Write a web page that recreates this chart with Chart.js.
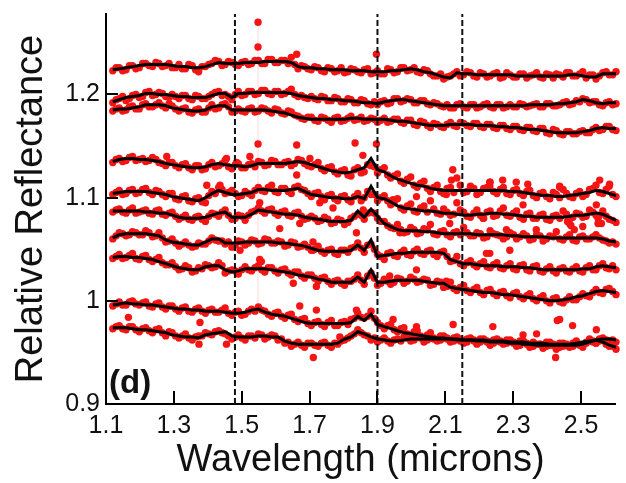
<!DOCTYPE html>
<html>
<head>
<meta charset="utf-8">
<script src="https://cdn.jsdelivr.net/npm/chart.js@4.4.1/dist/chart.umd.min.js"></script>
<style>
  html, body { margin: 0; padding: 0; background: #ffffff; }
  canvas { display: block; }
</style>
</head>
<body>
<canvas id="chart" width="626" height="483"></canvas>
<script>
// Sampling wavelengths (microns) shared by every spectrum
const wavelengths = [
  1.120,1.139,1.159,1.178,1.198,1.217,1.237,1.256,1.276,1.295,
  1.315,1.334,1.354,1.373,1.393,1.412,1.432,1.451,1.471,1.490,
  1.510,1.529,1.549,1.568,1.588,1.607,1.627,1.646,1.666,1.685,
  1.705,1.725,1.744,1.764,1.783,1.803,1.822,1.842,1.861,1.881,
  1.900,1.920,1.939,1.959,1.978,1.998,2.017,2.037,2.056,2.076,
  2.095,2.115,2.134,2.154,2.174,2.193,2.213,2.232,2.252,2.271,
  2.291,2.310,2.330,2.349,2.369,2.388,2.408,2.427,2.447,2.466,
  2.486,2.505,2.525,2.544,2.564,2.583,2.603
];
// Interleaved channel wavelengths (second detector readout)
const midWavelengths = [
  1.130,1.149,1.169,1.188,1.208,1.227,1.247,1.266,1.286,1.305,
  1.325,1.344,1.364,1.383,1.403,1.422,1.442,1.461,1.481,1.500,
  1.520,1.539,1.559,1.578,1.598,1.617,1.637,1.656,1.676,1.695,
  1.715,1.735,1.754,1.774,1.793,1.813,1.832,1.852,1.871,1.891,
  1.910,1.930,1.949,1.969,1.988,2.008,2.027,2.047,2.066,2.086,
  2.105,2.125,2.144,2.164,2.184,2.203,2.223,2.242,2.262,2.281,
  2.301,2.320,2.340,2.359,2.379,2.398,2.418,2.437,2.457,2.476,
  2.496,2.515,2.535,2.554,2.574,2.593
];

// Measured relative reflectance, one array per spectrum (top to bottom)
const spectrum1 = [
  1.223,1.226,1.224,1.228,1.226,1.230,1.227,1.230,1.228,1.226,
  1.229,1.225,1.228,1.222,1.227,1.230,1.232,1.229,1.231,1.228,
  1.232,1.230,1.233,1.230,1.234,1.231,1.233,1.236,1.225,1.227,
  1.224,1.226,1.222,1.225,1.223,1.221,1.225,1.222,1.224,1.220,
  1.223,1.220,1.224,1.222,1.226,1.224,1.222,1.224,1.220,1.218,
  1.215,1.218,1.222,1.219,1.221,1.217,1.220,1.218,1.221,1.217,
  1.219,1.217,1.220,1.218,1.221,1.216,1.219,1.220,1.217,1.221,
  1.218,1.222,1.219,1.215,1.221,1.219,1.222
];
const spectrum2 = [
  1.192,1.196,1.194,1.199,1.197,1.202,1.199,1.202,1.198,1.200,
  1.196,1.199,1.195,1.198,1.196,1.200,1.203,1.200,1.195,1.203,
  1.200,1.203,1.201,1.204,1.200,1.203,1.201,1.205,1.198,1.197,
  1.198,1.195,1.197,1.194,1.196,1.193,1.195,1.192,1.194,1.190,
  1.190,1.194,1.192,1.196,1.194,1.195,1.192,1.194,1.190,1.191,
  1.188,1.187,1.190,1.188,1.190,1.187,1.190,1.188,1.190,1.187,
  1.190,1.188,1.190,1.189,1.191,1.188,1.191,1.189,1.192,1.190,
  1.194,1.196,1.192,1.193,1.189,1.193,1.191
];
const spectrum3 = [
  1.184,1.187,1.185,1.189,1.186,1.191,1.188,1.192,1.187,1.189,
  1.184,1.187,1.182,1.186,1.183,1.190,1.187,1.191,1.183,1.186,
  1.183,1.187,1.184,1.186,1.182,1.185,1.181,1.183,1.179,1.176,
  1.178,1.174,1.177,1.173,1.178,1.175,1.179,1.176,1.174,1.177,
  1.173,1.177,1.174,1.176,1.172,1.175,1.170,1.173,1.168,1.171,
  1.168,1.173,1.169,1.172,1.169,1.172,1.168,1.171,1.167,1.170,
  1.166,1.169,1.165,1.168,1.164,1.167,1.162,1.165,1.161,1.164,
  1.162,1.165,1.163,1.168,1.166,1.169,1.165
];
const spectrum4 = [
  1.134,1.138,1.136,1.140,1.137,1.135,1.139,1.134,1.131,1.134,
  1.129,1.133,1.127,1.131,1.128,1.134,1.131,1.136,1.128,1.133,
  1.129,1.133,1.135,1.131,1.136,1.132,1.134,1.131,1.137,1.133,
  1.130,1.134,1.126,1.130,1.123,1.127,1.121,1.129,1.125,1.131,
  1.124,1.129,1.119,1.123,1.114,1.120,1.110,1.116,1.106,1.112,
  1.104,1.110,1.119,1.105,1.111,1.103,1.109,1.115,1.104,1.110,
  1.103,1.108,1.102,1.107,1.100,1.105,1.099,1.103,1.108,1.101,
  1.104,1.101,1.108,1.112,1.104,1.111,1.101
];
const spectrum5 = [
  1.103,1.107,1.104,1.108,1.105,1.109,1.103,1.106,1.101,1.104,
  1.098,1.102,1.096,1.100,1.095,1.106,1.110,1.104,1.107,1.101,
  1.106,1.102,1.110,1.106,1.112,1.105,1.109,1.104,1.111,1.107,
  1.101,1.105,1.098,1.103,1.097,1.102,1.096,1.104,1.100,1.103,
  1.097,1.102,1.093,1.099,1.088,1.094,1.086,1.092,1.097,1.085,
  1.089,1.083,1.095,1.086,1.081,1.088,1.080,1.087,1.083,1.090,
  1.082,1.087,1.079,1.085,1.080,1.084,1.078,1.083,1.087,1.080,
  1.085,1.081,1.088,1.083,1.087,1.079,1.076
];
const spectrum6 = [
  1.086,1.089,1.085,1.090,1.086,1.088,1.084,1.088,1.083,1.086,
  1.079,1.083,1.078,1.082,1.077,1.085,1.082,1.088,1.079,1.083,
  1.078,1.086,1.090,1.085,1.089,1.083,1.087,1.082,1.086,1.079,
  1.082,1.077,1.081,1.075,1.079,1.074,1.080,1.084,1.079,1.086,
  1.080,1.077,1.071,1.074,1.066,1.071,1.065,1.070,1.074,1.064,
  1.068,1.062,1.067,1.071,1.063,1.066,1.061,1.068,1.064,1.060,
  1.066,1.060,1.065,1.059,1.064,1.058,1.063,1.067,1.059,1.064,
  1.058,1.063,1.060,1.064,1.059,1.056,1.055
];
const spectrum7 = [
  1.060,1.066,1.063,1.067,1.064,1.068,1.062,1.066,1.057,1.060,
  1.053,1.057,1.052,1.056,1.055,1.061,1.058,1.055,1.052,1.058,
  1.054,1.059,1.055,1.060,1.056,1.058,1.053,1.057,1.052,1.055,
  1.049,1.053,1.046,1.050,1.045,1.049,1.051,1.056,1.047,1.055,
  1.045,1.040,1.047,1.043,1.049,1.044,1.050,1.045,1.049,1.043,
  1.048,1.038,1.043,1.034,1.039,1.033,1.038,1.032,1.037,1.031,
  1.036,1.030,1.035,1.029,1.034,1.028,1.033,1.027,1.032,1.028,
  1.033,1.028,1.034,1.030,1.036,1.031,1.030
];
const spectrum8 = [
  1.041,1.045,1.042,1.046,1.040,1.044,1.038,1.042,1.035,1.037,
  1.030,1.034,1.028,1.032,1.035,1.032,1.037,1.027,1.030,1.026,
  1.033,1.029,1.034,1.028,1.032,1.027,1.031,1.025,1.028,1.022,
  1.025,1.019,1.023,1.016,1.020,1.015,1.019,1.025,1.016,1.027,
  1.015,1.021,1.016,1.022,1.017,1.023,1.018,1.021,1.015,1.019,
  1.013,1.018,1.010,1.015,1.008,1.013,1.006,1.011,1.005,1.009,
  1.003,1.008,1.002,1.007,1.000,1.005,0.998,1.003,0.998,1.004,
  1.001,1.007,1.004,1.011,1.007,1.012,1.006
];
const spectrum9 = [
  0.995,0.999,0.996,1.000,0.996,0.999,0.994,0.998,0.992,0.995,
  0.990,0.994,0.989,0.993,0.988,0.992,0.989,0.993,0.986,0.990,
  0.987,0.992,0.994,0.990,0.985,0.989,0.983,0.987,0.980,0.983,
  0.976,0.980,0.975,0.981,0.976,0.980,0.982,0.988,0.983,0.990,
  0.979,0.973,0.977,0.970,0.974,0.966,0.971,0.964,0.969,0.962,
  0.966,0.961,0.965,0.960,0.964,0.959,0.963,0.958,0.963,0.959,
  0.962,0.957,0.961,0.956,0.968,0.957,0.960,0.955,0.959,0.956,
  0.961,0.957,0.963,0.959,0.962,0.956,0.953
];
const spectrum10 = [
  0.973,0.976,0.972,0.975,0.970,0.974,0.969,0.973,0.966,0.969,
  0.964,0.968,0.962,0.966,0.969,0.967,0.971,0.968,0.963,0.967,
  0.962,0.966,0.968,0.963,0.967,0.962,0.959,0.956,0.960,0.955,
  0.959,0.956,0.960,0.955,0.958,0.962,0.966,0.972,0.967,0.962,
  0.960,0.964,0.959,0.963,0.965,0.961,0.966,0.960,0.964,0.961,
  0.965,0.960,0.964,0.959,0.963,0.958,0.962,0.957,0.961,0.958,
  0.961,0.956,0.960,0.955,0.958,0.954,0.957,0.953,0.956,0.955,
  0.958,0.955,0.961,0.959,0.964,0.961,0.960
];

// Interleaved-channel reflectance, one array per spectrum (top to bottom)
const spectrumMid1 = [
  1.226,1.223,1.228,1.225,1.230,1.228,1.231,1.227,1.230,1.226,
  1.225,1.229,1.224,1.227,1.229,1.233,1.228,1.232,1.229,1.231,
  1.229,1.233,1.230,1.234,1.231,1.233,1.230,1.229,1.228,1.225,
  1.227,1.223,1.226,1.222,1.226,1.222,1.224,1.221,1.225,1.221,
  1.220,1.225,1.221,1.226,1.223,1.226,1.221,1.223,1.218,1.220,
  1.217,1.220,1.218,1.222,1.218,1.221,1.217,1.220,1.216,1.221,
  1.217,1.220,1.216,1.219,1.217,1.220,1.216,1.219,1.221,1.218,
  1.220,1.216,1.219,1.218,1.222,1.219
];
const spectrumMid2 = [
  1.195,1.198,1.196,1.200,1.198,1.203,1.200,1.201,1.197,1.198,
  1.199,1.196,1.199,1.196,1.198,1.202,1.199,1.198,1.200,1.199,
  1.203,1.200,1.204,1.201,1.203,1.200,1.203,1.200,1.199,1.196,
  1.196,1.198,1.194,1.197,1.193,1.196,1.192,1.195,1.191,1.193,
  1.193,1.191,1.196,1.193,1.196,1.192,1.194,1.191,1.192,1.189,
  1.190,1.187,1.191,1.187,1.190,1.188,1.191,1.187,1.190,1.188,
  1.188,1.191,1.188,1.190,1.188,1.191,1.189,1.190,1.193,1.191,
  1.193,1.195,1.193,1.190,1.192,1.190
];
const spectrumMid3 = [
  1.186,1.184,1.188,1.186,1.190,1.188,1.190,1.189,1.191,1.186,
  1.186,1.183,1.185,1.183,1.187,1.186,1.190,1.188,1.184,1.184,
  1.186,1.183,1.187,1.184,1.186,1.182,1.184,1.180,1.177,1.178,
  1.175,1.178,1.175,1.177,1.174,1.177,1.175,1.178,1.175,1.176,
  1.175,1.173,1.176,1.173,1.175,1.171,1.174,1.170,1.172,1.169,
  1.171,1.170,1.173,1.170,1.172,1.169,1.171,1.168,1.170,1.167,
  1.169,1.166,1.168,1.165,1.167,1.163,1.166,1.162,1.164,1.162,
  1.164,1.163,1.166,1.165,1.169,1.166
];
const spectrumMid4 = [
  1.137,1.135,1.139,1.136,1.138,1.136,1.137,1.133,1.134,1.131,
  1.132,1.129,1.131,1.127,1.132,1.130,1.133,1.130,1.132,1.129,
  1.132,1.130,1.134,1.132,1.135,1.132,1.135,1.133,1.136,1.131,
  1.132,1.128,1.129,1.125,1.126,1.122,1.127,1.124,1.132,1.130,
  1.127,1.122,1.121,1.116,1.118,1.112,1.114,1.109,1.110,1.106,
  1.109,1.105,1.112,1.106,1.109,1.105,1.110,1.106,1.108,1.104,
  1.107,1.104,1.106,1.102,1.104,1.101,1.105,1.100,1.104,1.100,
  1.106,1.103,1.109,1.105,1.108,1.103
];
const spectrumMid5 = [
  1.105,1.103,1.107,1.104,1.108,1.105,1.107,1.103,1.104,1.099,
  1.101,1.097,1.099,1.096,1.102,1.104,1.108,1.105,1.104,1.102,
  1.104,1.107,1.107,1.110,1.106,1.109,1.106,1.110,1.108,1.104,
  1.104,1.101,1.102,1.099,1.101,1.098,1.101,1.097,1.106,1.103,
  1.100,1.097,1.095,1.090,1.092,1.087,1.090,1.086,1.089,1.084,
  1.086,1.084,1.088,1.082,1.085,1.083,1.086,1.082,1.087,1.083,
  1.085,1.081,1.084,1.080,1.083,1.079,1.082,1.080,1.084,1.081,
  1.084,1.082,1.086,1.083,1.082,1.078
];
const spectrumMid6 = [
  1.088,1.086,1.088,1.085,1.087,1.085,1.087,1.084,1.085,1.082,
  1.081,1.079,1.081,1.079,1.082,1.084,1.086,1.083,1.080,1.082,
  1.083,1.087,1.087,1.088,1.085,1.086,1.083,1.085,1.082,1.080,
  1.080,1.078,1.079,1.076,1.078,1.076,1.082,1.083,1.085,1.085,
  1.077,1.073,1.070,1.069,1.067,1.069,1.066,1.069,1.065,1.067,
  1.064,1.066,1.064,1.066,1.063,1.065,1.062,1.065,1.063,1.062,
  1.064,1.062,1.063,1.060,1.063,1.060,1.062,1.060,1.062,1.059,
  1.062,1.060,1.062,1.061,1.058,1.057
];
const spectrumMid7 = [
  1.063,1.065,1.064,1.066,1.064,1.066,1.063,1.061,1.058,1.056,
  1.055,1.054,1.053,1.055,1.058,1.059,1.058,1.057,1.054,1.057,
  1.056,1.058,1.056,1.059,1.056,1.057,1.054,1.056,1.053,1.052,
  1.050,1.048,1.049,1.046,1.049,1.047,1.052,1.051,1.054,1.050,
  1.043,1.046,1.044,1.047,1.045,1.048,1.046,1.048,1.045,1.047,
  1.043,1.039,1.036,1.037,1.035,1.036,1.033,1.035,1.032,1.034,
  1.031,1.034,1.030,1.033,1.029,1.031,1.029,1.031,1.029,1.031,
  1.029,1.032,1.030,1.034,1.032,1.034
];
const spectrumMid8 = [
  1.043,1.041,1.044,1.041,1.043,1.040,1.040,1.037,1.035,1.033,
  1.031,1.032,1.029,1.031,1.034,1.033,1.034,1.029,1.029,1.030,
  1.030,1.032,1.030,1.032,1.029,1.030,1.027,1.028,1.024,1.025,
  1.022,1.022,1.019,1.019,1.017,1.019,1.021,1.020,1.024,1.022,
  1.017,1.019,1.018,1.021,1.019,1.021,1.019,1.020,1.016,1.018,
  1.014,1.012,1.013,1.010,1.011,1.008,1.010,1.007,1.008,1.005,
  1.007,1.004,1.005,1.002,1.003,1.000,1.002,0.999,1.001,1.001,
  1.004,1.005,1.008,1.008,1.011,1.009
];
const spectrumMid9 = [
  0.997,0.996,0.999,0.997,0.998,0.995,0.997,0.994,0.995,0.992,
  0.993,0.990,0.992,0.990,0.991,0.989,0.991,0.988,0.989,0.986,
  0.990,0.990,0.991,0.987,0.988,0.985,0.986,0.982,0.982,0.978,
  0.979,0.977,0.979,0.976,0.979,0.977,0.983,0.984,0.985,0.983,
  0.976,0.976,0.972,0.973,0.968,0.970,0.966,0.967,0.964,0.966,
  0.963,0.964,0.961,0.963,0.961,0.963,0.960,0.962,0.960,0.962,
  0.959,0.961,0.958,0.960,0.958,0.960,0.957,0.959,0.957,0.959,
  0.958,0.960,0.960,0.961,0.958,0.956
];
const spectrumMid10 = [
  0.975,0.973,0.975,0.972,0.973,0.971,0.972,0.969,0.970,0.966,
  0.966,0.964,0.965,0.966,0.968,0.970,0.969,0.966,0.965,0.964,
  0.966,0.964,0.967,0.965,0.966,0.963,0.960,0.958,0.957,0.959,
  0.957,0.959,0.957,0.959,0.961,0.964,0.968,0.969,0.966,0.964,
  0.962,0.961,0.962,0.961,0.964,0.962,0.964,0.962,0.963,0.962,
  0.964,0.961,0.963,0.960,0.962,0.960,0.961,0.959,0.961,0.959,
  0.960,0.957,0.959,0.956,0.958,0.956,0.958,0.955,0.958,0.956,
  0.957,0.959,0.961,0.963,0.962,0.962
];

// Smoothed spectra (running fit), same sampling as the main channel
const smooth1 = [
  1.224,1.225,1.226,1.227,1.228,1.229,1.229,1.229,1.229,1.228,
  1.227,1.227,1.226,1.226,1.227,1.229,1.231,1.230,1.230,1.230,
  1.231,1.231,1.231,1.232,1.232,1.232,1.232,1.231,1.227,1.226,
  1.226,1.225,1.225,1.224,1.224,1.224,1.223,1.223,1.223,1.222,
  1.222,1.222,1.223,1.223,1.224,1.225,1.224,1.222,1.221,1.219,
  1.217,1.216,1.221,1.220,1.220,1.219,1.219,1.219,1.219,1.219,
  1.219,1.218,1.218,1.218,1.218,1.218,1.218,1.218,1.218,1.219,
  1.219,1.218,1.217,1.217,1.220,1.220,1.220
];
const smooth2 = [
  1.193,1.195,1.197,1.198,1.199,1.201,1.201,1.200,1.200,1.199,
  1.198,1.198,1.197,1.197,1.197,1.199,1.201,1.201,1.197,1.201,
  1.201,1.202,1.202,1.202,1.202,1.202,1.202,1.201,1.199,1.198,
  1.197,1.196,1.196,1.195,1.195,1.194,1.194,1.193,1.192,1.192,
  1.191,1.193,1.194,1.195,1.195,1.194,1.193,1.192,1.191,1.190,
  1.189,1.189,1.189,1.189,1.189,1.189,1.189,1.189,1.189,1.189,
  1.189,1.189,1.189,1.190,1.190,1.190,1.190,1.191,1.191,1.192,
  1.193,1.195,1.194,1.192,1.191,1.192,1.192
];
const smooth3 = [
  1.185,1.186,1.186,1.187,1.188,1.190,1.190,1.190,1.189,1.187,
  1.186,1.185,1.184,1.184,1.185,1.188,1.189,1.189,1.185,1.185,
  1.185,1.185,1.185,1.185,1.184,1.183,1.182,1.180,1.178,1.177,
  1.176,1.176,1.176,1.176,1.176,1.176,1.177,1.177,1.176,1.176,
  1.176,1.176,1.175,1.174,1.174,1.173,1.172,1.171,1.170,1.170,
  1.170,1.171,1.171,1.171,1.171,1.170,1.170,1.170,1.169,1.169,
  1.168,1.168,1.167,1.166,1.166,1.165,1.164,1.163,1.163,1.163,
  1.163,1.164,1.165,1.167,1.168,1.167,1.167
];
const smooth4 = [
  1.135,1.137,1.138,1.138,1.137,1.137,1.136,1.135,1.133,1.132,
  1.131,1.130,1.129,1.129,1.130,1.132,1.133,1.132,1.131,1.131,
  1.130,1.131,1.133,1.133,1.133,1.133,1.133,1.134,1.135,1.134,
  1.132,1.130,1.128,1.126,1.125,1.124,1.125,1.127,1.129,1.138,
  1.127,1.125,1.121,1.118,1.116,1.114,1.112,1.111,1.109,1.108,
  1.107,1.107,1.107,1.107,1.107,1.107,1.107,1.107,1.107,1.107,
  1.106,1.106,1.105,1.104,1.103,1.102,1.102,1.101,1.101,1.102,
  1.103,1.104,1.105,1.107,1.106,1.104,1.102
];
const smooth5 = [
  1.104,1.105,1.106,1.106,1.106,1.106,1.105,1.104,1.103,1.101,
  1.100,1.099,1.098,1.097,1.100,1.104,1.107,1.105,1.103,1.103,
  1.104,1.105,1.108,1.108,1.107,1.107,1.107,1.108,1.109,1.106,
  1.103,1.102,1.101,1.100,1.100,1.099,1.099,1.101,1.099,1.111,
  1.100,1.099,1.096,1.092,1.090,1.089,1.088,1.087,1.087,1.086,
  1.085,1.085,1.084,1.083,1.083,1.084,1.084,1.085,1.085,1.084,
  1.084,1.083,1.082,1.082,1.081,1.081,1.081,1.081,1.081,1.082,
  1.083,1.083,1.084,1.085,1.084,1.081,1.078
];
const smooth6 = [
  1.087,1.087,1.087,1.087,1.087,1.086,1.086,1.085,1.085,1.083,
  1.081,1.080,1.080,1.080,1.081,1.083,1.085,1.086,1.081,1.081,
  1.081,1.084,1.088,1.087,1.086,1.085,1.084,1.084,1.083,1.081,
  1.080,1.079,1.078,1.077,1.077,1.077,1.078,1.087,1.081,1.089,
  1.082,1.075,1.072,1.069,1.068,1.068,1.068,1.067,1.067,1.066,
  1.065,1.065,1.065,1.065,1.065,1.064,1.064,1.064,1.064,1.064,
  1.063,1.063,1.062,1.062,1.062,1.062,1.061,1.061,1.061,1.061,
  1.061,1.061,1.061,1.061,1.060,1.058,1.057
];
const smooth7 = [
  1.061,1.064,1.065,1.065,1.065,1.065,1.064,1.063,1.059,1.057,
  1.056,1.055,1.054,1.054,1.057,1.060,1.060,1.056,1.056,1.056,
  1.057,1.057,1.057,1.057,1.057,1.056,1.056,1.055,1.054,1.053,
  1.051,1.049,1.048,1.048,1.048,1.048,1.049,1.054,1.049,1.059,
  1.043,1.044,1.045,1.046,1.046,1.047,1.047,1.047,1.047,1.047,
  1.046,1.040,1.038,1.036,1.036,1.035,1.034,1.034,1.034,1.033,
  1.033,1.033,1.032,1.032,1.031,1.030,1.030,1.030,1.030,1.030,
  1.030,1.031,1.031,1.033,1.034,1.033,1.032
];
const smooth8 = [
  1.042,1.043,1.043,1.042,1.042,1.041,1.040,1.038,1.036,1.034,
  1.032,1.031,1.030,1.030,1.033,1.034,1.034,1.030,1.028,1.029,
  1.031,1.031,1.031,1.031,1.030,1.029,1.028,1.027,1.025,1.024,
  1.023,1.021,1.020,1.018,1.018,1.018,1.018,1.023,1.018,1.030,
  1.018,1.018,1.019,1.020,1.020,1.020,1.020,1.019,1.018,1.017,
  1.017,1.013,1.012,1.011,1.010,1.009,1.008,1.008,1.007,1.006,
  1.006,1.005,1.004,1.003,1.002,1.001,1.000,1.000,1.001,1.002,
  1.004,1.005,1.007,1.009,1.010,1.009,1.008
];
const smooth9 = [
  0.996,0.997,0.998,0.997,0.997,0.996,0.996,0.995,0.994,0.993,
  0.992,0.992,0.991,0.991,0.990,0.990,0.990,0.989,0.988,0.988,
  0.989,0.991,0.992,0.989,0.987,0.986,0.985,0.983,0.981,0.979,
  0.978,0.978,0.978,0.978,0.978,0.978,0.979,0.985,0.981,0.987,
  0.977,0.975,0.973,0.971,0.969,0.968,0.967,0.966,0.965,0.964,
  0.964,0.963,0.963,0.962,0.962,0.962,0.962,0.961,0.961,0.961,
  0.960,0.960,0.960,0.959,0.959,0.959,0.958,0.958,0.958,0.958,
  0.959,0.960,0.961,0.962,0.960,0.957,0.955
];
const smooth10 = [
  0.974,0.974,0.974,0.973,0.972,0.972,0.971,0.970,0.969,0.967,
  0.966,0.965,0.965,0.964,0.967,0.968,0.969,0.970,0.966,0.965,
  0.965,0.965,0.966,0.966,0.965,0.965,0.961,0.959,0.958,0.958,
  0.958,0.958,0.958,0.958,0.959,0.963,0.965,0.970,0.968,0.965,
  0.963,0.962,0.961,0.961,0.962,0.963,0.963,0.963,0.963,0.963,
  0.963,0.963,0.962,0.962,0.962,0.961,0.961,0.960,0.960,0.960,
  0.959,0.959,0.958,0.958,0.957,0.957,0.957,0.957,0.957,0.957,
  0.957,0.958,0.960,0.962,0.963,0.963,0.962
];

// Isolated noisy samples (wavelength, reflectance)
const strayWavelengths = [
  1.548,1.548,1.548,1.662,1.662,1.834,1.857,1.897,1.897,2.122,
  2.118,2.231,2.269,2.309,2.343,2.437,2.555,2.584,2.460,2.470,
  2.480,2.550,2.560,2.231,2.430,2.475,2.425,1.711,1.374,1.455,
  1.166,1.377,1.558,1.710,1.279,1.455,1.436,
  1.946,2.015,2.103,2.231,2.329,2.437,2.545,1.966,2.113,2.211,
  2.280,2.368,2.466,2.505,2.550,1.936,2.015,2.221,2.290,2.103,
  2.437,2.545,2.015,2.123,2.240,1.946,2.329,
  1.436,1.524,1.662,1.701,1.553,1.730,1.769,1.612,1.671,1.495,
  1.553,1.710,1.652,1.720,1.838,1.858,1.397,1.485,1.838,1.720,
  1.789,1.671
];
const strayValues = [
  1.270,1.246,1.152,1.239,1.151,1.153,1.141,1.239,1.152,1.127,
  1.117,1.115,1.117,1.115,1.113,1.110,1.117,1.113,1.077,1.073,
  1.069,1.080,1.075,1.046,0.981,0.976,0.945,0.945,0.958,0.958,
  0.984,0.979,1.038,1.057,1.140,1.138,1.112,
  1.098,1.101,1.103,1.111,1.093,1.111,1.093,1.066,1.075,1.080,
  1.069,1.069,1.075,1.072,1.075,1.024,1.030,1.046,1.049,1.019,
  0.982,0.972,0.975,0.977,0.975,0.982,0.967,
  1.108,1.140,1.122,1.138,1.095,1.095,1.090,1.070,1.075,1.049,
  1.040,1.049,1.017,1.014,1.066,1.088,1.112,1.134,0.991,0.991,
  0.965,0.995
];

// Reference band positions (microns)
const bandLines = [1.48, 1.9, 2.15];

// Axis ticks
const xTickValues = [1.1, 1.3, 1.5, 1.7, 1.9, 2.1, 2.3, 2.5];
const xTickLabels = ['1.1', '1.3', '1.5', '1.7', '1.9', '2.1', '2.3', '2.5'];
const yTickValues = [0.9, 1.0, 1.1, 1.2];
const yTickLabels = ['0.9', '1', '1.1', '1.2'];
const X_MIN = 1.1, X_MAX = 2.6, Y_MIN = 0.9, Y_MAX = 1.278;

const FONT = '"Liberation Sans", Arial, Helvetica, sans-serif';
const DOT_RED = '#f41414';

const measured = [spectrum1, spectrum2, spectrum3, spectrum4, spectrum5,
                  spectrum6, spectrum7, spectrum8, spectrum9, spectrum10];
const measuredMid = [spectrumMid1, spectrumMid2, spectrumMid3, spectrumMid4, spectrumMid5,
                     spectrumMid6, spectrumMid7, spectrumMid8, spectrumMid9, spectrumMid10];
const smoothed = [smooth1, smooth2, smooth3, smooth4, smooth5,
                  smooth6, smooth7, smooth8, smooth9, smooth10];

const toPoints = (xs, ys) => ys.map((v, i) => ({ x: xs[i], y: v }));

const dotStyle = {
  showLine: false, pointRadius: 3.7, pointBorderWidth: 0,
  pointBackgroundColor: DOT_RED, backgroundColor: DOT_RED, order: 4, clip: false
};

const datasets = [];

// faint trace through the isolated spike near 1.55 microns
datasets.push({
  data: [{ x: strayWavelengths[0], y: strayValues[0] }, { x: strayWavelengths[0], y: 0.99 }],
  showLine: true, borderColor: 'rgba(240,80,80,0.14)', borderWidth: 1.5,
  pointRadius: 0, order: 5, clip: false
});

measured.forEach(vals => datasets.push({ ...dotStyle, data: toPoints(wavelengths, vals) }));
measuredMid.forEach(vals => datasets.push({ ...dotStyle, data: toPoints(midWavelengths, vals) }));
datasets.push({ ...dotStyle, data: toPoints(strayWavelengths, strayValues) });

bandLines.forEach(w => {
  datasets.push({
    data: [{ x: w, y: Y_MIN }, { x: w, y: Y_MAX }],
    showLine: true, borderColor: '#111', borderWidth: 2, borderDash: [6, 3],
    pointRadius: 0, order: 2, clip: false
  });
});

smoothed.forEach(vals => {
  datasets.push({
    data: toPoints(wavelengths, vals),
    showLine: true, borderColor: '#000', borderWidth: 3,
    pointRadius: 0, tension: 0, order: 1, clip: false
  });
});

// inward tick marks and panel tag
const panelDecor = {
  id: 'panelDecor',
  afterDraw(chart) {
    const { ctx, chartArea, scales: { x, y } } = chart;
    ctx.save();
    ctx.strokeStyle = '#000';
    ctx.lineWidth = 2;
    ctx.beginPath();
    xTickValues.forEach(v => {
      const px = Math.round(x.getPixelForValue(v));
      ctx.moveTo(px, chartArea.bottom);
      ctx.lineTo(px, chartArea.bottom - 13);
    });
    yTickValues.forEach(v => {
      const py = Math.round(y.getPixelForValue(v));
      ctx.moveTo(chartArea.left, py);
      ctx.lineTo(chartArea.left + 12, py);
    });
    ctx.stroke();
    ctx.fillStyle = '#111';
    ctx.font = 'bold 33px ' + FONT;
    ctx.textAlign = 'left';
    ctx.textBaseline = 'alphabetic';
    ctx.fillText('(d)', chartArea.left + 3, chartArea.bottom - 11);
    ctx.restore();
  }
};

new Chart(document.getElementById('chart'), {
  type: 'scatter',
  data: { datasets },
  plugins: [panelDecor],
  options: {
    responsive: false,
    animation: false,
    devicePixelRatio: 1,
    layout: { padding: { left: 0, top: 14, right: 11, bottom: 0 } },
    plugins: { legend: { display: false }, tooltip: { enabled: false } },
    scales: {
      x: {
        type: 'linear', min: X_MIN, max: X_MAX,
        grid: { display: false, drawTicks: false },
        border: { display: true, color: '#000', width: 2 },
        afterBuildTicks: s => { s.ticks = xTickValues.map(v => ({ value: v })); },
        afterFit: s => { s.height = 79; s.paddingLeft = 0; s.paddingRight = 0; },
        ticks: {
          padding: 7, color: '#111', maxRotation: 0, autoSkip: false,
          font: { family: FONT, size: 25 },
          callback: (v, i) => xTickLabels[i]
        },
        title: {
          display: true, text: 'Wavelength (microns)', color: '#111',
          font: { family: FONT, size: 38 }, padding: { top: 0, bottom: 0 }
        }
      },
      y: {
        type: 'linear', min: Y_MIN, max: Y_MAX,
        grid: { display: false, drawTicks: false },
        border: { display: true, color: '#000', width: 2 },
        afterBuildTicks: s => { s.ticks = yTickValues.map(v => ({ value: v })); },
        afterFit: s => { s.width = 106; s.paddingTop = 0; s.paddingBottom = 0; },
        ticks: {
          padding: 6, color: '#111', autoSkip: false,
          font: { family: FONT, size: 25 },
          callback: (v, i) => yTickLabels[i]
        },
        title: {
          display: true, text: 'Relative Reflectance', color: '#111',
          font: { family: FONT, size: 38 }, padding: { top: 9, bottom: 0 }
        }
      }
    }
  }
});
</script>
</body>
</html>
